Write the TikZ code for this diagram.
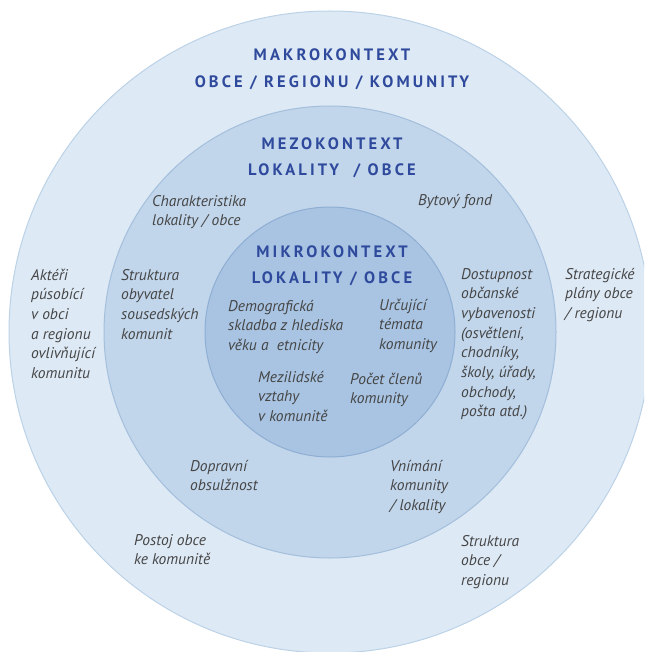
\documentclass[tikz,border=0pt]{standalone}
\usepackage{fontspec}
\setmainfont{PT Sans}
\newfontfamily\titlefont[LetterSpace=19]{PT Sans}

\definecolor{outerblue}{HTML}{DDE9F5}
\definecolor{outerrim}{HTML}{BCD2E7}
\definecolor{midblue}{HTML}{C1D5EB}
\definecolor{midrim}{HTML}{A4BFDB}
\definecolor{innerblue}{HTML}{A8C4E2}
\definecolor{innerrim}{HTML}{8EAED3}
\definecolor{titleblue}{HTML}{2F4A9C}
\definecolor{textgray}{HTML}{454545}

\begin{document}
\begin{tikzpicture}[x=1pt,y=-1pt,
    every node/.style={inner sep=0pt},
    ring/.style={line width=1pt},
    heading/.style={font=\titlefont\bfseries\fontsize{16.5}{20}\selectfont, text=titleblue, anchor=base},
    item/.style={font=\itshape\fontsize{15.5}{19.7}\selectfont, text=textgray, align=left, anchor=base west}]
    % Picture frame
    \useasboundingbox (0,0) rectangle (644,652);
    \clip (0,0) rectangle (644,652);

    % Three circles round one centre
    \coordinate (C) at (330,332);
    \filldraw[ring, fill=outerblue, draw=outerrim] (C) circle (321pt);
    \filldraw[ring, fill=midblue, draw=midrim] (C) circle (226pt);
    \filldraw[ring, fill=innerblue, draw=innerrim] (C) circle (125pt);

    % Headings
    \node[heading] (makro) at (332,61) {MAKROKONTEXT};
    \node[heading] (makrob) at (332,88) {OBCE / REGIONU / KOMUNITY};
    \node[heading] (mezo) at (332,150) {MEZOKONTEXT};
    \node[heading] (mezob) at (332,176) {LOKALITY\ \ / OBCE};
    \node[heading] (mikro) at (332,257) {MIKROKONTEXT};
    \node[heading] (mikrob) at (332,283) {LOKALITY / OBCE};

    % Items: y is the baseline of the last line
    % Makrokontext
    \node[item] (akteri) at (31,378.5) {Aktéři\\púsobící\\v obci\\a regionu\\ovlivňující\\komunitu};
    \node[item] (strategie) at (565,318.4) {Strategické\\plány obce\\/ regionu};
    \node[item] (postoj) at (134,564.7) {Postoj obce\\ke komunitě};
    \node[item] (strobce) at (461,585.4) {Struktura\\obce /\\regionu};

    % Mezokontext
    \node[item] (charakter) at (152,225.7) {Charakteristika\\lokality / obce};
    \node[item] (bytfond) at (418,206) {Bytový fond};
    \node[item] (strobyv) at (121,339.1) {Struktura\\obyvatel\\sousedských\\komunit};
    \node[item] (dostup) at (461,416.9) {Dostupnost\\občanské\\vybavenosti\\(osvětlení,\\chodníky,\\školy, úřady,\\obchody,\\pošta atd.)};
    \node[item] (doprava) at (190,490.7) {Dopravní\\obsulžnost};
    \node[item] (vnimani) at (390,510.4) {Vnímání\\komunity\\/ lokality};

    % Mikrokontext
    \node[item] (demo) at (228,350.4) {Demografická\\skladba z hlediska\\věku a\ \ etnicity};
    \node[item] (temata) at (379,349.4) {Určující\\témata\\komunity};
    \node[item] (vztahy) at (258,421.4) {Mezilidské\\vztahy\\v komunitě};
    \node[item] (pocet) at (350,403.7) {Počet členů\\komunity};
\end{tikzpicture}
\end{document}
